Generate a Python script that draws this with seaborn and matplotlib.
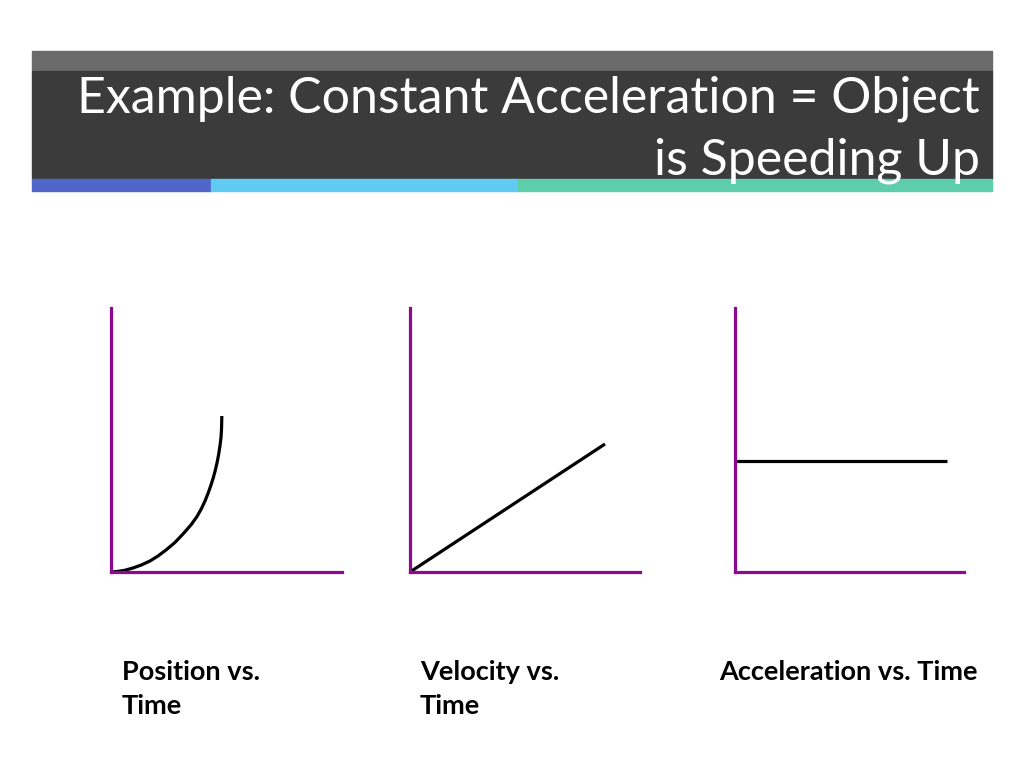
import matplotlib
matplotlib.use("Agg")
import matplotlib.pyplot as plt
import seaborn as sns
import pandas as pd
from matplotlib.patches import Rectangle

# values (time units along each axis, value units up the axis)
pos_time = [0, 7, 13.7, 22, 30.3, 39, 47, 55, 63.7, 72, 80.3, 86, 90.5, 94, 97, 100,
            102.5, 104.5, 106.3, 107.8, 109, 110, 110.5, 110.7, 110.8]
pos_value = [0, 0.6, 1.7, 4, 7, 11, 16, 22, 29.3, 38, 47.5, 55.5, 63.5, 71, 78.5, 87,
             95, 102.5, 110.5, 118.5, 126.5, 134.5, 142.5, 150, 156]
vel_time = [0, 195]
vel_value = [0, 128]
acc_time = [0, 212]
acc_value = [111, 111]

title_lines = ["Example: Constant Acceleration = Object", "is Speeding Up"]
panel_labels = [["Position vs.", "Time"], ["Velocity vs.", "Time"], ["Acceleration vs. Time"]]

sns.set_theme(style="white")
plt.rcParams["font.family"] = ["Lato", "DejaVu Sans"]

W, H = 1024, 768
fig = plt.figure(figsize=(W / 100, H / 100), dpi=100)
fig.patch.set_facecolor("white")


def fx(px):
    return px / W


def fy(py):
    return 1 - py / H


# title banner
fig.patches.append(Rectangle((fx(32), fy(71)), fx(960), 20 / H, transform=fig.transFigure,
                             color="#6b6b6b", zorder=0))
fig.patches.append(Rectangle((fx(32), fy(179)), fx(960), 108 / H, transform=fig.transFigure,
                             color="#3b3b3b", zorder=0))
for x0, x1, c in [(32, 211, "#5065c8"), (211, 518, "#5fcbf2"), (518, 992, "#5dcdaa")]:
    fig.patches.append(Rectangle((fx(x0), fy(191)), fx(x1 - x0), 12 / H, transform=fig.transFigure,
                                 color=c, zorder=0))

fig.text(fx(980), fy(113), title_lines[0], color="white", fontsize=36, ha="right", va="baseline")
fig.text(fx(980), fy(175), title_lines[1], color="white", fontsize=36, ha="right", va="baseline")

purple = "#8b0a8f"
panels = [
    (111, 231, pos_time, pos_value),
    (410, 230, vel_time, vel_value),
    (735, 229, acc_time, acc_value),
]
label_x = [122, 420, 719]

for (left, width, t, v), lx, lab in zip(panels, label_x, panel_labels):
    ax = fig.add_axes([fx(left), fy(572), fx(width), 264 / H])
    df = pd.DataFrame({"t": t, "v": v})
    sns.lineplot(data=df, x="t", y="v", color="black", linewidth=2.3, ax=ax, sort=False)
    for ln in ax.lines:
        ln.set_clip_on(False)
        ln.set_solid_joinstyle("round")
        ln.set_solid_capstyle("butt")
    ax.set_xlim(0, width)
    ax.set_ylim(0, 264)
    ax.set_xticks([])
    ax.set_yticks([])
    ax.set_xlabel("")
    ax.set_ylabel("")
    for s in ["top", "right"]:
        ax.spines[s].set_visible(False)
    for s in ["left", "bottom"]:
        ax.spines[s].set_color(purple)
        ax.spines[s].set_linewidth(2.3)
    ax.patch.set_alpha(0)
    for i, line in enumerate(lab):
        fig.text(fx(lx), fy(680 + 34 * i), line, fontsize=19.5, fontweight="bold",
                 color="black", ha="left", va="baseline")

fig.savefig("out.png", dpi=100)
